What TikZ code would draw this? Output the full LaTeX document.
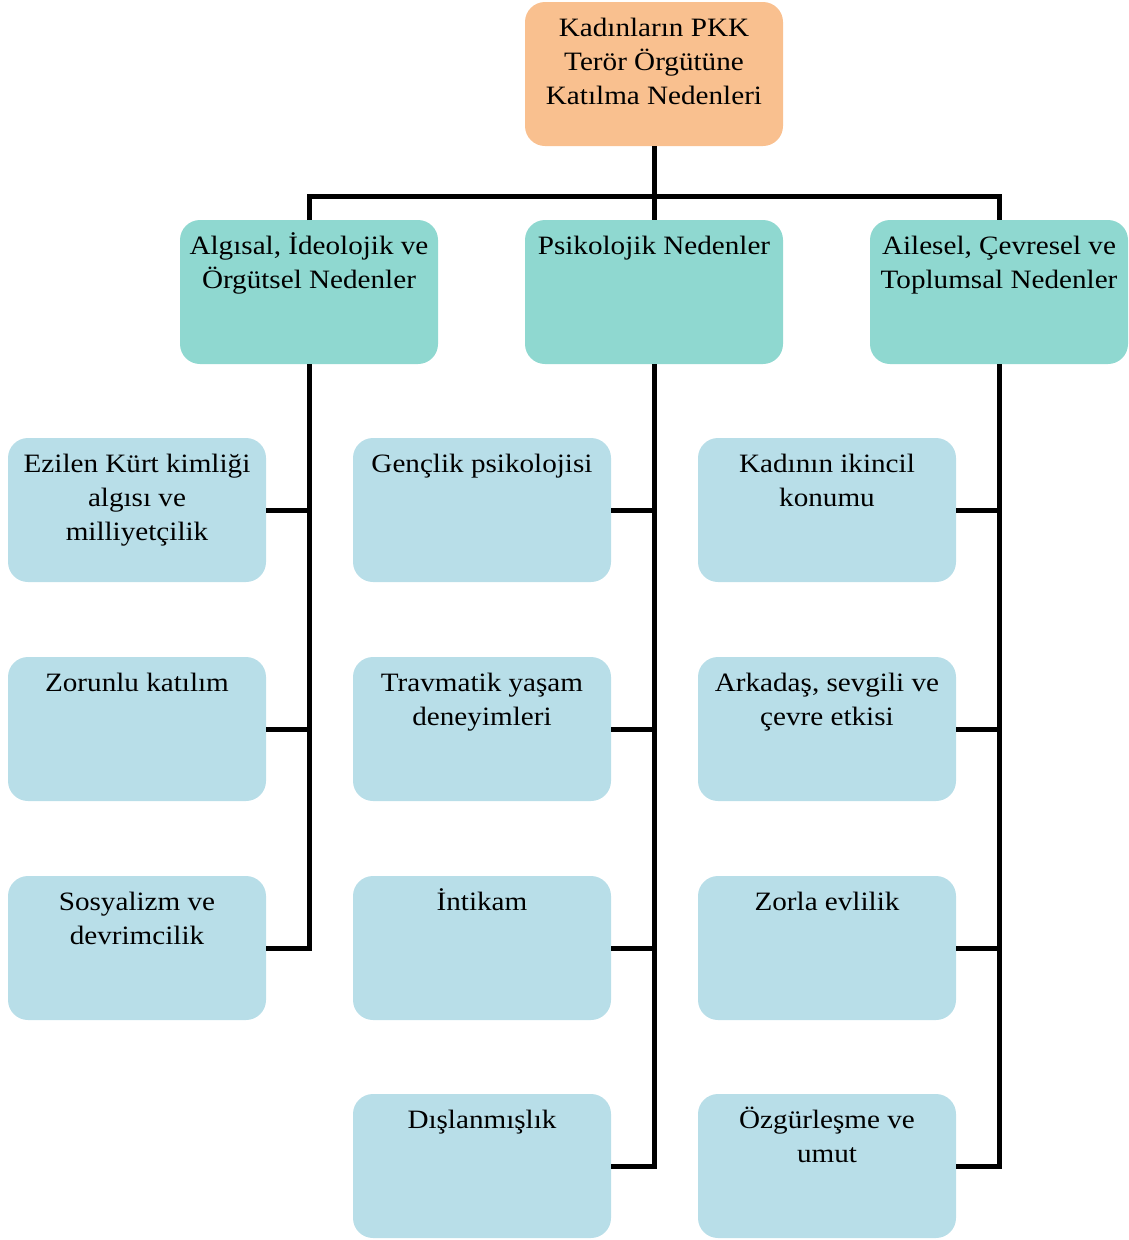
\documentclass[tikz,border=0pt]{standalone}
\usepackage{fontspec}
\setmainfont{Liberation Serif}[FakeStretch=1.1]
\definecolor{rootorange}{HTML}{F9C08F}
\definecolor{groupteal}{HTML}{8FD8D0}
\definecolor{itemblue}{HTML}{B8DEE8}
\newcommand{\boxtxt}[1]{\parbox[t][144pt][t]{258pt}{\centering\fontsize{26.5}{34}\selectfont\vspace*{10.5pt}\strut #1}}
\tikzset{
  box/.style={rounded corners=20pt, inner sep=0pt, outer sep=0pt, draw=none},
  rootbox/.style={box, fill=rootorange},
  groupbox/.style={box, fill=groupteal},
  itembox/.style={box, fill=itemblue},
  link/.style={line width=5pt}
}
\begin{document}
\begin{tikzpicture}[x=1pt,y=-1pt]
                \useasboundingbox (0,0) rectangle (1129,1240);

                % root
                \node[rootbox] at (654,74) (root) {\boxtxt{Kadınların PKK\\Terör Örgütüne\\Katılma Nedenleri}};

                % groups
                \node[groupbox] at (309,292) (alg) {\boxtxt{Algısal, İdeolojik ve\\Örgütsel Nedenler}};
                \node[groupbox] at (654,292) (psi) {\boxtxt{Psikolojik Nedenler}};
                \node[groupbox] at (999,292) (aile) {\boxtxt{Ailesel, Çevresel ve\\Toplumsal Nedenler}};

                % left column
                \node[itembox] at (137,510) (ezilen) {\boxtxt{Ezilen Kürt kimliği\\algısı ve\\milliyetçilik}};
                \node[itembox] at (137,729) (zorunlu) {\boxtxt{Zorunlu katılım}};
                \node[itembox] at (137,948) (sosyal) {\boxtxt{Sosyalizm ve\\devrimcilik}};

                % middle column
                \node[itembox] at (482,510) (genc) {\boxtxt{Gençlik psikolojisi}};
                \node[itembox] at (482,729) (travma) {\boxtxt{Travmatik yaşam\\deneyimleri}};
                \node[itembox] at (482,948) (intikam) {\boxtxt{İntikam}};
                \node[itembox] at (482,1166) (dislan) {\boxtxt{Dışlanmışlık}};

                % right column
                \node[itembox] at (827,510) (ikincil) {\boxtxt{Kadının ikincil\\konumu}};
                \node[itembox] at (827,729) (arkadas) {\boxtxt{Arkadaş, sevgili ve\\çevre etkisi}};
                \node[itembox] at (827,948) (evlilik) {\boxtxt{Zorla evlilik}};
                \node[itembox] at (827,1166) (ozgur) {\boxtxt{Özgürleşme ve\\umut}};

                \coordinate (bus) at (654,196);

                \draw[link] (root.south) -- (bus);
                \draw[link] (alg.north) |- (bus) -| (aile.north);
                \draw[link] (bus) -- (psi.north);

                \draw[link] (alg.south) |- (sosyal.east);
                \draw[link] (ezilen.east) -- (ezilen.east -| alg.south);
                \draw[link] (zorunlu.east) -- (zorunlu.east -| alg.south);

                \draw[link] (psi.south) |- (dislan.east);
                \draw[link] (genc.east) -- (genc.east -| psi.south);
                \draw[link] (travma.east) -- (travma.east -| psi.south);
                \draw[link] (intikam.east) -- (intikam.east -| psi.south);

                \draw[link] (aile.south) |- (ozgur.east);
                \draw[link] (ikincil.east) -- (ikincil.east -| aile.south);
                \draw[link] (arkadas.east) -- (arkadas.east -| aile.south);
                \draw[link] (evlilik.east) -- (evlilik.east -| aile.south);

            \end{tikzpicture}
\end{document}
